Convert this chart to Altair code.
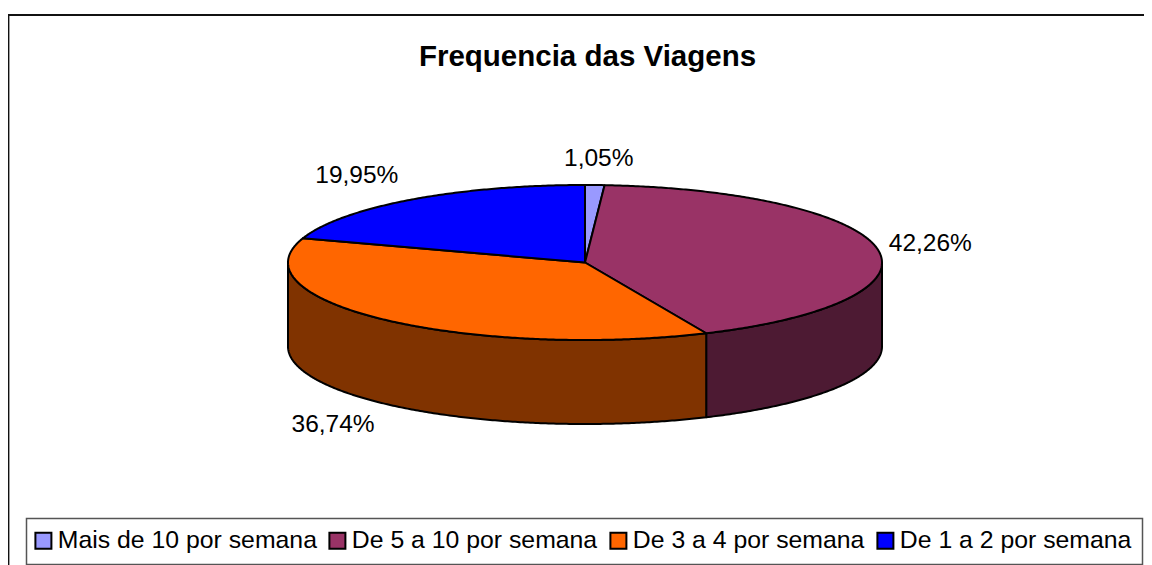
import numpy as np
import pandas as pd
import altair as alt

categories = ["Mais de 10 por semana", "De 5 a 10 por semana", "De 3 a 4 por semana", "De 1 a 2 por semana"]
values = [1.05, 42.26, 36.74, 19.95]
labels = ["1,05%", "42,26%", "36,74%", "19,95%"]
colors = ["#9999FF", "#993366", "#FF6600", "#0000FF"]
side_colors = ["#4D4D80", "#4D1A33", "#803300", "#000080"]
label_offsets = [(4, -26), (53, -5), (-53, 105), (-54, -24)]

CX, CY, RX, RY, DEPTH = 585.0, 262.5, 297.0, 77.5, 84.0


def point(deg, drop=0.0):
    a = np.radians(deg)
    return CX + RX * np.sin(a), CY - RY * np.cos(a) + drop


edges = np.concatenate([[0.0], np.cumsum(values)]) / sum(values) * 360.0
top, side = [], []
for i, cat in enumerate(categories):
    a0, a1 = edges[i], edges[i + 1]
    arc = np.linspace(a0, a1, max(int(a1 - a0) * 2, 8))
    poly = [(CX, CY)] + [point(a) for a in arc] + [(CX, CY)]
    for k, (x, y) in enumerate(poly):
        top.append({"cat": cat, "k": k, "x": x, "y": y})
    lo, hi = max(a0, 90.0), min(a1, 270.0)
    if lo < hi:
        front = np.linspace(lo, hi, max(int(hi - lo) * 2, 8))
        ring = [point(a) for a in front] + [point(a, DEPTH) for a in front[::-1]]
        ring.append(ring[0])
        for k, (x, y) in enumerate(ring):
            side.append({"cat": cat, "k": k, "x": x, "y": y})

top_df = pd.DataFrame(top)
side_df = pd.DataFrame(side)

xs = alt.Scale(domain=[8, 1144], range=[0, 1136], nice=False, zero=False)
ys = alt.Scale(domain=[8, 565], range=[0, 557], nice=False, zero=False)
X = alt.X("x:Q", scale=xs, axis=None)
Y = alt.Y("y:Q", scale=ys, axis=None)

frame_df = pd.DataFrame([{"x": 8.5, "x2": 1200, "y": 15, "y2": 600}])
frame = alt.Chart(frame_df).mark_rect(fill="white", stroke="#111111", strokeWidth=1.8, clip=True).encode(
    x=X, x2="x2:Q", y=Y, y2="y2:Q"
)
legend_box_df = pd.DataFrame([{"x": 26.5, "x2": 1142.5, "y": 518.5, "y2": 564.5}])
legend_box = alt.Chart(legend_box_df).mark_rect(fill="white", stroke="#555555", strokeWidth=1.5).encode(
    x=X, x2="x2:Q", y=Y, y2="y2:Q"
)

side_layer = alt.Chart(side_df).mark_line(stroke="black", strokeWidth=2, strokeJoin="round").encode(
    x=X, y=Y, order="k:Q", detail="cat:N",
    fill=alt.Fill("cat:N", scale=alt.Scale(domain=categories, range=side_colors), legend=None),
)
top_layer = alt.Chart(top_df).mark_line(stroke="black", strokeWidth=2, strokeJoin="round").encode(
    x=X, y=Y, order="k:Q", detail="cat:N",
    fill=alt.Fill(
        "cat:N",
        scale=alt.Scale(domain=categories, range=colors),
        legend=alt.Legend(
            title=None, orient="none", legendX=23, legendY=520, direction="horizontal", columns=4,
            symbolType="square", symbolSize=256, symbolStrokeColor="black", symbolStrokeWidth=2,
            symbolOpacity=1, labelFont="Liberation Sans", labelFontSize=24.8, labelColor="black",
            labelLimit=400, labelOffset=2, columnPadding=8, padding=0, symbolOffset=0,
        ),
    ),
)

text_layers = []
for i, lab in enumerate(labels):
    mid = (edges[i] + edges[i + 1]) / 2
    mx, my = point(mid)
    d = pd.DataFrame([{"x": mx, "y": my, "t": lab}])
    dx, dy = label_offsets[i]
    text_layers.append(
        alt.Chart(d).mark_text(font="Liberation Sans", fontSize=24.5, color="black", dx=dx, dy=dy).encode(
            x=X, y=Y, text="t:N"
        )
    )

title_df = pd.DataFrame([{"x": CX + 2.5, "y": 57, "t": "Frequencia das Viagens"}])
title = alt.Chart(title_df).mark_text(font="Liberation Sans", fontSize=29.5, fontWeight="bold", color="black").encode(
    x=X, y=Y, text="t:N"
)

chart = alt.layer(frame, legend_box, side_layer, top_layer, *text_layers, title).resolve_scale(fill="independent").properties(
    width=1136, height=557, padding=0, autosize=alt.AutoSizeParams(type="none"), background="white"
).configure_view(stroke=None)

chart.save("out.html", embed_options={"renderer": "svg", "actions": False})
